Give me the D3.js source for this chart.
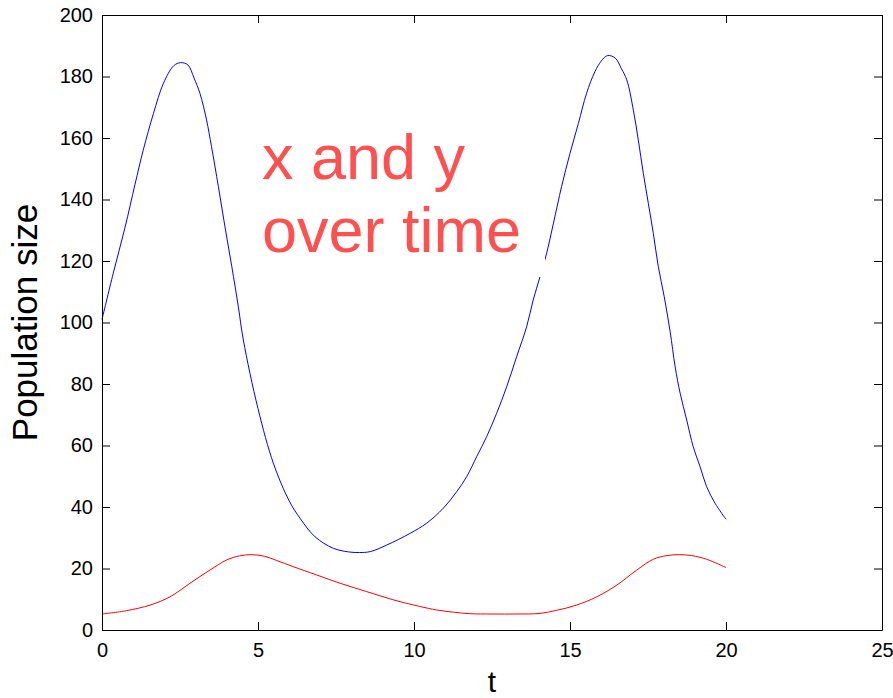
<!DOCTYPE html>
<html>
<head>
<meta charset="utf-8">
<script src="https://cdn.jsdelivr.net/npm/d3@7"></script>
<style>
  body { margin: 0; background: #fff; }
  text { font-family: "Liberation Sans", Arial, sans-serif; }
</style>
</head>
<body>
<div id="chart-area"></div>
<script>
// prey (x) readings: time and population
var preyT = [0, 0.36, 0.74, 1.06, 1.32, 1.65, 1.97, 2.3, 2.52, 2.75, 2.95, 3.14, 3.35, 3.51, 3.73, 3.94,
  4.16, 4.37, 4.53, 5.0, 5.5, 6.0, 6.35, 6.83, 7.41, 7.9, 8.25, 8.6, 9.12, 9.87, 10.4, 10.94, 11.37,
  11.69, 12.01, 12.33, 12.65, 12.97, 13.29, 13.61, 13.82, 14.04, 14.25, 14.47, 14.73, 15.0, 15.27,
  15.53, 15.8, 16.0, 16.2, 16.45, 16.65, 16.82, 17.03, 17.19, 17.35, 17.51, 17.67, 17.83, 18.02, 18.21, 18.37,
  18.53, 18.74, 18.95, 19.17, 19.38, 19.65, 20.0];
var preyX = [101, 116, 131, 145, 156, 168, 177.8, 183.5, 184.5, 183.8, 179.5, 174.5, 165.9, 157.2, 144.2, 131.2,
  118.2, 105.1, 94.3, 72, 54, 42, 36.3, 30.3, 26.6, 25.4, 25.2, 25.5, 27.6, 31.4, 34.7, 39.6, 45,
  49.9, 56.4, 62.9, 70.5, 79.1, 88.9, 98.6, 107.3, 114.9, 122.5, 132.3, 144.2, 155, 164.8,
  174.5, 181.6, 185, 186.8, 186, 182.5, 178.9, 169.1, 159.3, 148.5, 138.8, 129, 118.2, 108.4, 97, 85.6,
  77, 68.3, 59.6, 53.1, 46.6, 41.2, 36];

// predator (y) readings
var predT = [0, 0.79, 1.54, 2.18, 2.82, 3.46, 4.0, 4.4, 4.8, 5.2, 5.6, 6.13, 6.88, 7.63, 8.48, 9.34,
  10.17, 10.73, 11.26, 11.79, 12.5, 13.3, 14.04, 14.57, 15.21, 15.86, 16.5, 17.14, 17.67, 18.1, 18.5,
  18.9, 19.38, 20.0];
var predY = [5.2, 6.3, 8.1, 10.8, 15.2, 19.5, 22.8, 24.1, 24.5, 24.0, 22.6, 20.6, 17.9, 15.2, 12.5, 9.8,
  7.7, 6.5, 5.8, 5.3, 5.2, 5.2, 5.4, 6.4, 8.1, 10.8, 14.6, 19.5, 23, 24.2, 24.5,
  24.2, 23, 20.3];

var xTicks = [0, 5, 10, 15, 20, 25];
var yTicks = [0, 20, 40, 60, 80, 100, 120, 140, 160, 180, 200];
var noteLines = ["x and y", "over time"];

var margin = {top: 15, right: 11, bottom: 68, left: 102},
    width = 893 - margin.left - margin.right,
    height = 698 - margin.top - margin.bottom;

var svg = d3.select("#chart-area")
  .append("svg")
    .attr("width", width + margin.left + margin.right)
    .attr("height", height + margin.top + margin.bottom)
  .append("g")
    .attr("transform", "translate(" + margin.left + "," + margin.top + ")");

var x = d3.scaleLinear().domain([0, 25]).range([0, width]);
var y = d3.scaleLinear().domain([0, 200]).range([height, 0]);

var prey = preyT.map(function(t, i) { return {t: t, v: preyX[i]}; });
var pred = predT.map(function(t, i) { return {t: t, v: predY[i]}; });

var line = d3.line()
  .x(function(d) { return x(d.t); })
  .y(function(d) { return y(d.v); })
  .curve(d3.curveCatmullRom.alpha(0.5));

svg.append("path")
  .datum(prey)
  .attr("fill", "none")
  .attr("stroke", "#0000ff")
  .attr("stroke-width", 1)
  .attr("d", line);

svg.append("path")
  .datum(pred)
  .attr("fill", "none")
  .attr("stroke", "#ff0000")
  .attr("stroke-width", 1)
  .attr("d", line);

// text box with white background (covers part of the blue line)
var tx = 160, ty1 = 164, ty2 = 237;
svg.append("rect")
  .attr("x", tx - 6)
  .attr("y", ty1 - 58)
  .attr("width", 443 - tx + 6)
  .attr("height", 262 - (ty1 - 58))
  .attr("fill", "#fff");

svg.append("text")
  .attr("x", tx)
  .attr("y", ty1)
  .attr("font-size", "63px")
  .attr("fill", "#ff5050")
  .text(noteLines[0]);
svg.append("text")
  .attr("x", tx)
  .attr("y", ty2)
  .attr("font-size", "63px")
  .attr("fill", "#ff5050")
  .text(noteLines[1]);

// axes, MATLAB style: ticks inside on all four sides
function styleAxis(g) {
  g.select(".domain").attr("stroke", "#000");
  g.selectAll(".tick line").attr("stroke", "#000");
  g.selectAll("text").attr("font-size", "20px").attr("fill", "#000")
    .attr("font-family", "Liberation Sans, Arial, sans-serif");
}

svg.append("g")
  .attr("transform", "translate(0," + height + ")")
  .call(d3.axisBottom(x).tickValues(xTicks).tickSizeInner(-8).tickSizeOuter(0).tickPadding(13))
  .call(styleAxis);

svg.append("g")
  .call(d3.axisTop(x).tickValues(xTicks).tickSizeInner(-8).tickSizeOuter(0).tickFormat(""))
  .call(styleAxis);

svg.append("g")
  .call(d3.axisLeft(y).tickValues(yTicks).tickSizeInner(-8).tickSizeOuter(0).tickPadding(9))
  .call(styleAxis);

svg.append("g")
  .attr("transform", "translate(" + width + ",0)")
  .call(d3.axisRight(y).tickValues(yTicks).tickSizeInner(-8).tickSizeOuter(0).tickFormat(""))
  .call(styleAxis);

svg.append("text")
  .attr("x", width / 2)
  .attr("y", height + 62)
  .attr("font-size", "30px")
  .attr("text-anchor", "middle")
  .text("t");

svg.append("text")
  .attr("x", -(height / 2))
  .attr("y", -65)
  .attr("font-size", "35px")
  .attr("text-anchor", "middle")
  .attr("transform", "rotate(-90)")
  .text("Population size");
</script>
</body>
</html>
